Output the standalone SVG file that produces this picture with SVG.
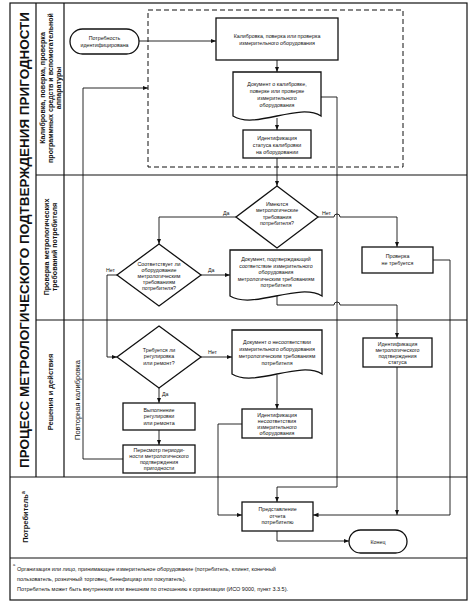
<svg xmlns="http://www.w3.org/2000/svg" width="474" height="604" viewBox="0 0 474 604">
<style>
text{font-family:"Liberation Sans",Arial,sans-serif;fill:#111}
.n{font-size:5.3px;text-anchor:middle}
.l{font-size:5.3px}
.lane{font-size:7.1px;font-weight:bold;text-anchor:middle}
.box{fill:#fff;stroke:#111;stroke-width:1.3}
.c{fill:none;stroke:#111;stroke-width:0.9}
.fr{fill:none;stroke:#111;stroke-width:1.2}
.dash{fill:none;stroke:#111;stroke-width:1;stroke-dasharray:5 3}
</style>
<defs>
<marker id="a" markerUnits="userSpaceOnUse" markerWidth="6" markerHeight="5" refX="5.5" refY="2.2" orient="auto"><path d="M0,0 L5.5,2.2 L0,4.4 z" fill="#111"/></marker>
</defs>
<rect width="474" height="604" fill="#fff"/>
<g id="frame">
<rect class="fr" x="10" y="3" width="457" height="597"/>
<path class="fr" d="M36,3 V477 M64,3 V477 M36,175 H467 M36,320 H467 M10,477 H467 M10,558 H467"/>
<text transform="translate(28.5,240) rotate(-90)" textLength="456" lengthAdjust="spacingAndGlyphs" style="font-size:13.5px;font-weight:bold;text-anchor:middle">ПРОЦЕСС МЕТРОЛОГИЧЕСКОГО ПОДТВЕРЖДЕНИЯ ПРИГОДНОСТИ</text>
<text class="lane" transform="translate(45,88) rotate(-90)"><tspan x="0" y="0">Калибровка, поверка, проверка</tspan><tspan x="0" y="8">программных средств и вспомогательной</tspan><tspan x="0" y="16">аппаратуры</tspan></text>
<text class="lane" transform="translate(49,247) rotate(-90)"><tspan x="0" y="0">Проверка метрологических</tspan><tspan x="0" y="8">требований потребителя</tspan></text>
<text class="lane" transform="translate(53,392) rotate(-90)" style="font-size:7.5px">Решения и действия</text>
<text transform="translate(80,400) rotate(-90)" style="font-size:7.5px;text-anchor:middle">Повторная калибровка</text>
<text class="lane" transform="translate(28,517) rotate(-90)" style="font-size:7.5px">Потребитель<tspan dy="-3" style="font-size:5px">a</tspan></text>
<text x="13" y="566" style="font-size:4px">a</text>
<text class="l" style="font-size:5.5px"><tspan x="17" y="571">Организация или лицо, принимающее измерительное оборудование (потребитель, клиент, конечный</tspan><tspan x="17" y="581">пользователь, розничный торговец, бенефициар или покупатель).</tspan><tspan x="17" y="591">Потребитель может быть внутренним или внешним по отношению к организации (ИСО 9000, пункт 3.3.5).</tspan></text>
</g>
<g id="connectors">
<rect class="dash" x="148" y="10" width="255" height="157"/>
<path class="c" marker-end="url(#a)" d="M139,41 H216"/>
<path class="c" marker-end="url(#a)" d="M277,60 V72"/>
<path class="c" marker-end="url(#a)" d="M277,118 V130"/>
<path class="c" marker-end="url(#a)" d="M321,97 H337 V487 H277 V502"/>
<path class="c" marker-end="url(#a)" d="M277,158 V186"/>
<path class="c" marker-end="url(#a)" d="M236,217 H159 V244"/>
<path class="c" marker-end="url(#a)" d="M318,217 H334 a3,3 0 0 1 6,0 H397 V247"/>
<path class="c" marker-end="url(#a)" d="M201,275 H230"/>
<path class="c" marker-end="url(#a)" d="M117,275 H107 V357 H117"/>
<path class="c" marker-end="url(#a)" d="M277,296 V305 H334 a3,3 0 0 1 6,0 H397 V338"/>
<path class="c" marker-end="url(#a)" d="M433,260 H450 V515 H313"/>
<path class="c" marker-end="url(#a)" d="M201,357 H232"/>
<path class="c" marker-end="url(#a)" d="M159,388 V403"/>
<path class="c" marker-end="url(#a)" d="M277,375 V409"/>
<path class="c" marker-end="url(#a)" d="M159,430 V445"/>
<path class="c" marker-end="url(#a)" d="M123,459 H83 V88 H148"/>
<path class="c" marker-end="url(#a)" d="M242,424 H218 V515 H242"/>
<path class="c" marker-end="url(#a)" d="M397,367 V515"/>
<path class="c" marker-end="url(#a)" d="M277,531 V541 H349"/>
<text class="l" x="223" y="214.5">Да</text>
<text class="l" x="322" y="214.5">Нет</text>
<text class="l" x="208" y="272">Да</text>
<text class="l" x="106" y="272">Нет</text>
<text class="l" x="208" y="354">Нет</text>
<text class="l" x="162" y="396">Да</text>
</g>
<g id="start">
<rect class="box" x="70" y="29" width="69" height="25" rx="12.5"/>
<text class="n"><tspan x="104.5" y="39.5">Потребность</tspan><tspan x="104.5" y="46.5">идентифицирована</tspan></text>
</g>
<g id="calibration">
<rect class="box" x="216" y="18" width="122" height="42"/>
<text class="n"><tspan x="277" y="37.5">Калибровка, поверка или проверка</tspan><tspan x="277" y="44.5">измерительного оборудования</tspan></text>
</g>
<g id="doc-calibration">
<path class="box" d="M233,72 H321 V116 C299,102 255,130 233,116 Z"/>
<text class="n"><tspan x="277" y="86">Документ о калибровке,</tspan><tspan x="277" y="93">поверке или проверке</tspan><tspan x="277" y="100">измерительного</tspan><tspan x="277" y="107">оборудования</tspan></text>
</g>
<g id="id-calibration">
<rect class="box" x="243" y="130" width="68" height="28"/>
<text class="n"><tspan x="277" y="140">Идентификация</tspan><tspan x="277" y="147">статуса калибровки</tspan><tspan x="277" y="154">на оборудовании</tspan></text>
</g>
<g id="dec-requirements">
<polygon class="box" points="277,186 318,217 277,248 236,217"/>
<text class="n"><tspan x="277" y="205.5">Имеются</tspan><tspan x="277" y="212">метрологические</tspan><tspan x="277" y="218.5">требования</tspan><tspan x="277" y="225">потребителя?</tspan></text>
</g>
<g id="dec-conform">
<polygon class="box" points="159,244 201,275 159,306 117,275"/>
<text class="n"><tspan x="159" y="265.5">Соответствует ли</tspan><tspan x="159" y="271.7">оборудование</tspan><tspan x="159" y="277.9">метрологическим</tspan><tspan x="159" y="284.1">требованиям</tspan><tspan x="159" y="290.3">потребителя?</tspan></text>
</g>
<g id="doc-conform">
<path class="box" d="M230,250 H322 V296 C299,282 253,310 230,296 Z"/>
<text class="n"><tspan x="276" y="261">Документ, подтверждающий</tspan><tspan x="276" y="267.5">соответствие измерительного</tspan><tspan x="276" y="274">оборудования</tspan><tspan x="276" y="280.5">метрологическим требованиям</tspan><tspan x="276" y="287">потребителя</tspan></text>
</g>
<g id="no-check">
<rect class="box" x="362" y="247" width="71" height="26"/>
<text class="n"><tspan x="397.5" y="258">Проверка</tspan><tspan x="397.5" y="265">не требуется</tspan></text>
</g>
<g id="dec-repair">
<polygon class="box" points="159,326 201,357 159,388 117,357"/>
<text class="n"><tspan x="159" y="351.5">Требуется ли</tspan><tspan x="159" y="358">регулировка</tspan><tspan x="159" y="364.5">или ремонт?</tspan></text>
</g>
<g id="doc-nonconform">
<path class="box" d="M232,330 H322 V374 C300,360 254,388 232,374 Z"/>
<text class="n"><tspan x="277" y="343.5">Документ о несоответствии</tspan><tspan x="277" y="350.5">измерительного оборудования</tspan><tspan x="277" y="357.5">метрологическим требованиям</tspan><tspan x="277" y="364.5">потребителя</tspan></text>
</g>
<g id="id-nonconform">
<rect class="box" x="242" y="409" width="70" height="29"/>
<text class="n"><tspan x="277" y="417">Идентификация</tspan><tspan x="277" y="423">несоответствия</tspan><tspan x="277" y="429">измерительного</tspan><tspan x="277" y="435">оборудования</tspan></text>
</g>
<g id="repair">
<rect class="box" x="123" y="403" width="72" height="27"/>
<text class="n"><tspan x="159" y="411.5">Выполнение</tspan><tspan x="159" y="418">регулировки</tspan><tspan x="159" y="424.5">или ремонта</tspan></text>
</g>
<g id="review">
<rect class="box" x="123" y="445" width="72" height="28"/>
<text class="n"><tspan x="159" y="451.5">Пересмотр периоди-</tspan><tspan x="159" y="457.7">ности метрологического</tspan><tspan x="159" y="463.9">подтверждения</tspan><tspan x="159" y="470.1">пригодности</tspan></text>
</g>
<g id="id-status">
<rect class="box" x="363" y="338" width="69" height="29"/>
<text class="n"><tspan x="397.5" y="345.5">Идентификация</tspan><tspan x="397.5" y="351.5">метрологического</tspan><tspan x="397.5" y="357.5">подтверждения</tspan><tspan x="397.5" y="363.5">статуса</tspan></text>
</g>
<g id="report">
<rect class="box" x="242" y="502" width="71" height="29"/>
<text class="n"><tspan x="277.5" y="511">Представление</tspan><tspan x="277.5" y="517.5">отчета</tspan><tspan x="277.5" y="524">потребителю</tspan></text>
</g>
<g id="end">
<rect class="box" x="349" y="530" width="58" height="23" rx="11.5"/>
<text class="n" x="378" y="543.5">Конец</text>
</g>
</svg>
